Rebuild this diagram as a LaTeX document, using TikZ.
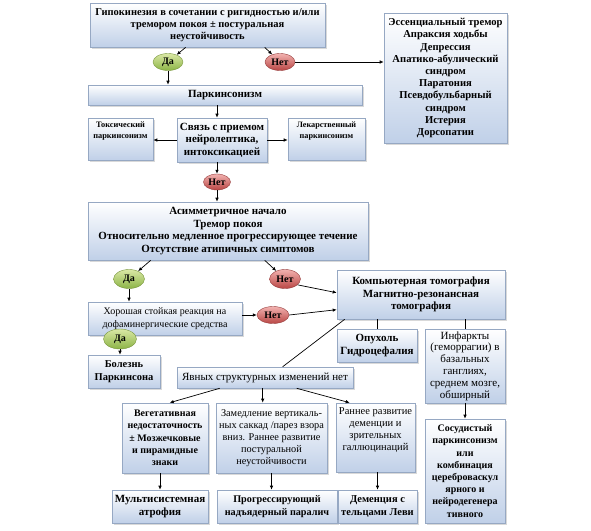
\documentclass[tikz,border=0pt]{standalone}
\usepackage{fontspec}
\setmainfont{Liberation Serif}
\usetikzlibrary{shadows,calc,arrows.meta,shapes.geometric}
\definecolor{bordc}{RGB}{150,168,195}
\definecolor{boxb}{RGB}{192,208,232}
\definecolor{gtop}{RGB}{218,232,165}
\definecolor{gbot}{RGB}{140,180,70}
\definecolor{gbrd}{RGB}{120,150,60}
\definecolor{rtop}{RGB}{242,178,176}
\definecolor{rbot}{RGB}{185,70,68}
\definecolor{rbrd}{RGB}{150,60,60}
\newcommand{\fs}[2]{\fontsize{#1}{#2}\selectfont}
\tikzset{
  bx/.style={draw=bordc, line width=0.6pt, top color=white, bottom color=boxb, align=center,
    inner xsep=1pt, inner ysep=1pt, drop shadow={shadow xshift=1.5pt, shadow yshift=-1.5pt, opacity=0.3},
    font=\fs{9}{11.5}\bfseries},
  da/.style={ellipse, draw=gbrd, top color=gtop, bottom color=gbot, inner sep=0pt,
    font=\fs{10}{10}\bfseries},
  net/.style={ellipse, draw=rbrd, top color=rtop, bottom color=rbot, inner sep=0pt,
    font=\fs{10}{10}\bfseries},
  arr/.style={-{Latex[length=4pt,width=3.5pt]}, line width=0.7pt},
  ln/.style={line width=0.7pt}
}
\begin{document}
\begin{tikzpicture}[x=1pt,y=-1pt]
\useasboundingbox (0,0) rectangle (591,530);
% boxes
\node[bx, minimum width=235pt, minimum height=44pt, font=\fs{10.5}{12.3}\bfseries] (top) at (207.5,25)
  {Гипокинезия в сочетании с ригидностью и/или\\тремором покоя ± постуральная\\неустойчивость};
\node[bx, minimum width=123pt, minimum height=130pt, font=\fs{10.6}{12.2}\bfseries] (right) at (445.5,78)
  {Эссенциальный тремор\\Апраксия ходьбы\\Депрессия\\Апатико-абулический\\синдром\\Паратония\\Псевдобульбарный\\синдром\\Истерия\\Дорсопатии};
\node[bx, minimum width=274pt, minimum height=20pt, font=\fs{11}{12}\bfseries] (park) at (225,95) {Паркинсонизм};
\node[bx, minimum width=65pt, minimum height=42pt, font=\fs{8.3}{11}\bfseries] (toks) at (120.5,139) {Токсический\\паркинсонизм\\[6pt]};
\node[bx, minimum width=90pt, minimum height=44pt, font=\fs{11}{12.5}\bfseries] (svyaz) at (222,140) {Связь с приемом\\нейролептика,\\интоксикацией};
\node[bx, minimum width=77pt, minimum height=42pt, font=\fs{8.2}{11}\bfseries] (lek) at (326.5,139) {Лекарственный\\паркинсонизм\\[6pt]};
\node[bx, minimum width=280pt, minimum height=58pt, font=\fs{11}{12.5}\bfseries] (asym) at (228,231)
  {Асимметричное начало\\Тремор покоя\\Относительно медленное прогрессирующее течение\\Отсутствие атипичных симптомов};
\node[bx, minimum width=168pt, minimum height=49pt, font=\fs{11}{12.5}\bfseries] (ct) at (421,294.5) {Компьютерная томография\\Магнитно-резонансная\\томография};
\node[bx, minimum width=154pt, minimum height=33pt, font=\fs{10}{12.5}] (hor) at (165,318.5) {Хорошая стойкая реакция на\\дофаминергические средства};
\node[bx, minimum width=72pt, minimum height=33pt, font=\fs{10.5}{12.5}\bfseries] (bol) at (124,371.5) {Болезнь\\Паркинсона};
\node[bx, minimum width=176pt, minimum height=21pt, font=\fs{11}{12}] (yavn) at (265,377.5) {Явных структурных изменений нет};
\node[bx, minimum width=80pt, minimum height=33pt, font=\fs{11}{12.5}\bfseries] (opuh) at (377,345.5) {Опухоль\\Гидроцефалия};
\node[bx, minimum width=80pt, minimum height=74pt, font=\fs{11}{11.8}] (infar) at (465,366) {Инфаркты\\(геморрагии) в\\базальных\\ганглиях,\\среднем мозге,\\обширный};
\node[bx, minimum width=80pt, minimum height=104pt, font=\fs{10}{12.2}\bfseries] (sosud) at (465,471) {Сосудистый\\паркинсонизм\\или\\комбинация\\цереброваскул\\ярного и\\нейродегенера\\тивного};
\node[bx, minimum width=86pt, minimum height=70pt, font=\fs{10}{12.3}\bfseries] (veget) at (165,438) {Вегетативная\\недостаточность\\± Мозжечковые\\и пирамидные\\знаки};
\node[bx, minimum width=111pt, minimum height=70pt, font=\fs{10.3}{12}] (zamed) at (271.5,438) {Замедление вертикаль-\\ных саккад /парез взора\\вниз. Раннее развитие\\постуральной\\неустойчивости};
\node[bx, minimum width=79pt, minimum height=69pt, font=\fs{10.5}{12}] (rann) at (375.5,437.5) {Раннее развитие\\деменции и\\зрительных\\галлюцинаций\\[4pt]};
\node[bx, minimum width=96pt, minimum height=33pt, font=\fs{11}{12.5}\bfseries] (mult) at (160,506.5) {Мультисистемная\\атрофия};
\node[bx, minimum width=120pt, minimum height=33pt, font=\fs{10.2}{12.5}\bfseries] (prog) at (277,506.5) {Прогрессирующий\\надъядерный паралич};
\node[bx, minimum width=79pt, minimum height=33pt, font=\fs{10.5}{12.5}\bfseries] (dem) at (377.5,506.5) {Деменция с\\тельцами Леви};
% ellipses
\node[da, minimum width=30pt, minimum height=17pt] (da1) at (168,62) {Да};
\node[net, minimum width=30pt, minimum height=17pt] (net1) at (280,62) {Нет};
\node[net, minimum width=27pt, minimum height=16pt] (net2) at (217,182) {Нет};
\node[da, minimum width=31pt, minimum height=19pt] (da2) at (129,279) {Да};
\node[net, minimum width=31pt, minimum height=19pt] (net3) at (285,279) {Нет};
\node[net, minimum width=32pt, minimum height=17pt] (net4) at (273,315) {Нет};
\node[da, minimum width=33pt, minimum height=20pt] (da3) at (120,339) {Да};
% connectors
\draw[arr] ($(top.south west)+(96,0)$) -- (da1);
\draw[arr] ($(top.south west)+(175,0)$) -- (net1);
\draw[arr] (net1.east) -- (net1.east -| right.west);
\draw[arr] (da1.south) -- (da1.south |- park.north);
\draw[arr] (park.south -| net2) -- (svyaz.north -| net2);
\draw[arr] (svyaz.west) -- (svyaz.west -| toks.east);
\draw[arr] (svyaz.east) -- (svyaz.east -| lek.west);
\draw[arr] (svyaz.south -| net2) -- (net2.north);
\draw[arr] (net2.south) -- (net2.south |- asym.north);
\draw[arr] ($(asym.south west)+(63,0)$) -- (da2);
\draw[arr] ($(asym.south west)+(177,0)$) -- (net3);
\draw[arr] (net3.-25) -- ($(ct.north west)+(0,23)$);
\draw[arr] (da2.south) -- (da2.south |- hor.north);
\draw[arr] (hor.east |- net4) -- (net4.west);
\draw[arr] (net4.east) -- ($(ct.north west)+(0,40)$);
\draw[arr] (da3.south) -- (da3.south |- bol.north);
\draw[ln] ($(ct.south west)+(8,0)$) -- ($(yavn.north west)+(106,0)$);
\draw[ln] (opuh.north |- ct.south) -- (opuh.north);
\draw[ln] (infar.north |- ct.south) -- (infar.north);
\draw[arr] (infar.south) -- (sosud.north);
\draw[arr] ($(yavn.south west)+(43,0)$) -- ($(veget.north west)+(48,0)$);
\draw[arr] ($(yavn.south west)+(86,0)$) -- ($(zamed.north west)+(47,0)$);
\draw[arr] ($(yavn.south west)+(120,0)$) -- ($(rann.north west)+(14,0)$);
\draw[arr] (mult.north |- veget.south) -- (mult.north);
\draw[arr] (zamed.south) -- (zamed.south |- prog.north);
\draw[arr] (dem.north |- rann.south) -- (dem.north);
\end{tikzpicture}
\end{document}
